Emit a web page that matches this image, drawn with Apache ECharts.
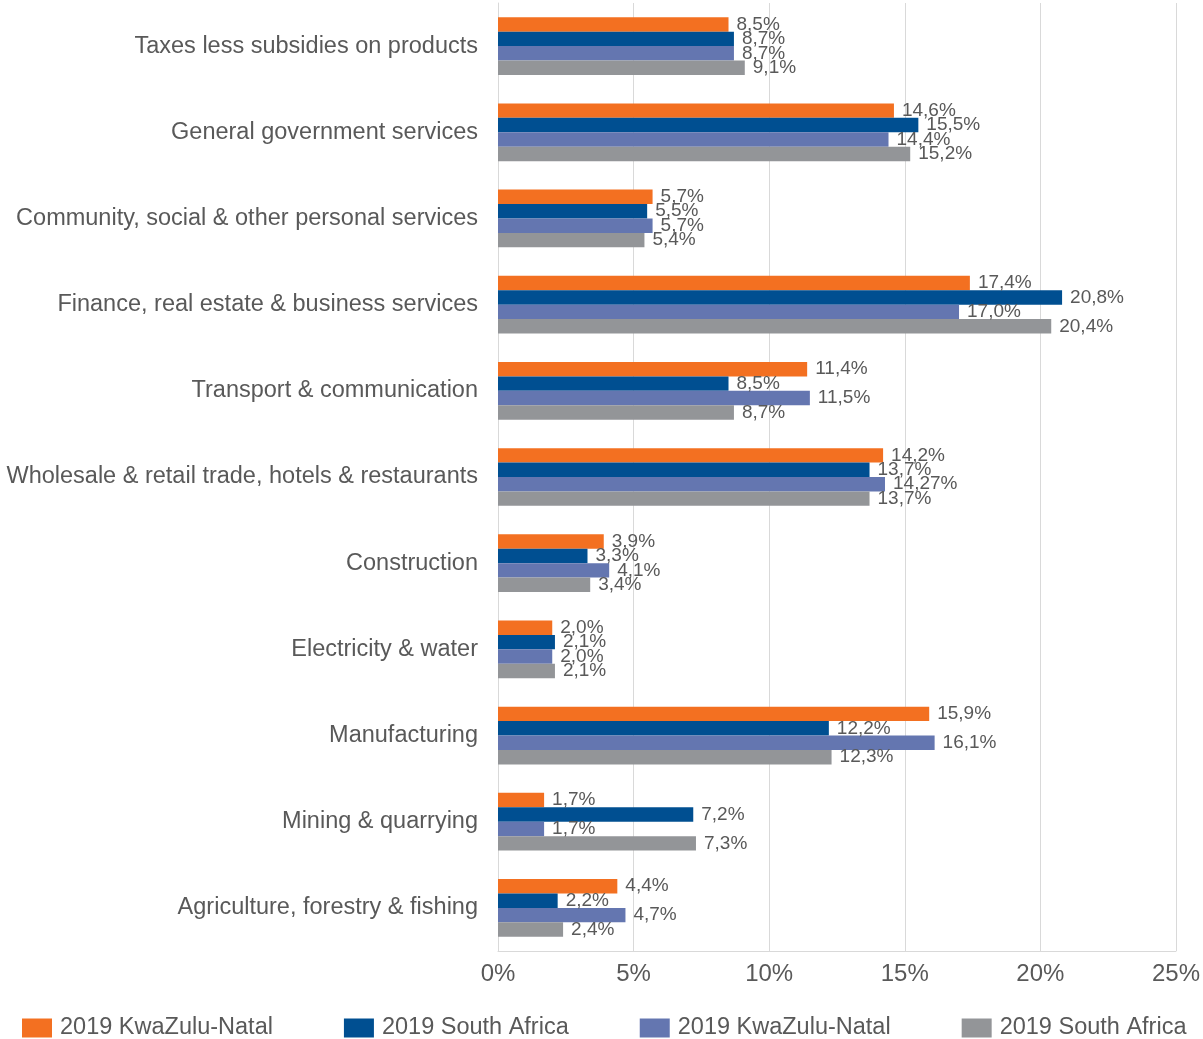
<!DOCTYPE html>
<html>
<head>
<meta charset="utf-8">
<style>
  html, body { margin: 0; padding: 0; background: #ffffff; }
  #chart { width: 1203px; height: 1039px; }
</style>
<script src="https://cdn.jsdelivr.net/npm/echarts@6/dist/echarts.min.js"></script>
</head>
<body>
<div id="chart"></div>
<script>
// Sector shares of GDP, 2019 (percent)
const categories = [
  'Taxes less subsidies on products',
  'General government services',
  'Community, social & other personal services',
  'Finance, real estate & business services',
  'Transport & communication',
  'Wholesale & retail trade, hotels & restaurants',
  'Construction',
  'Electricity & water',
  'Manufacturing',
  'Mining & quarrying',
  'Agriculture, forestry & fishing'
];

const kznA = [8.5, 14.6, 5.7, 17.4, 11.4, 14.2, 3.9, 2.0, 15.9, 1.7, 4.4];
const saA  = [8.7, 15.5, 5.5, 20.8, 8.5, 13.7, 3.3, 2.1, 12.2, 7.2, 2.2];
const kznB = [8.7, 14.4, 5.7, 17.0, 11.5, 14.27, 4.1, 2.0, 16.1, 1.7, 4.7];
const saB  = [9.1, 15.2, 5.4, 20.4, 8.7, 13.7, 3.4, 2.1, 12.3, 7.3, 2.4];

const seriesKeys = ['kznA', 'saA', 'kznB', 'saB'];
const seriesLabels = ['2019 KwaZulu-Natal', '2019 South Africa', '2019 KwaZulu-Natal', '2019 South Africa'];
const seriesData = [kznA, saA, kznB, saB];
const seriesColors = ['#F37021', '#004F91', '#6476B0', '#939598'];

const tickLabels = ['0%', '5%', '10%', '15%', '20%', '25%'];

const FONT = '"Liberation Sans", Arial, Helvetica, sans-serif';
const TEXT = '#595959';

function pct(v) {
  const s = Number.isInteger(Math.round(v * 100) / 10) ? v.toFixed(1) : String(v);
  return s.replace('.', ',') + '%';
}

const chart = echarts.init(document.getElementById('chart'), null, { renderer: 'canvas' });

chart.setOption({
  backgroundColor: '#ffffff',
  animation: false,
  textStyle: { fontFamily: FONT },
  grid: { left: 498, right: 26, top: 3, bottom: 88, containLabel: false },
  legend: {
    data: seriesKeys,
    left: 17,
    top: 1011,
    itemWidth: 30,
    itemHeight: 19,
    itemGap: 71,
    icon: 'rect',
    formatter: function (name) { return seriesLabels[seriesKeys.indexOf(name)]; },
    textStyle: { fontFamily: FONT, fontSize: 23.5, color: TEXT, padding: [0, 0, 0, 3] }
  },
  xAxis: {
    type: 'value',
    min: 0,
    max: 25,
    interval: 5,
    axisLine: { show: true, lineStyle: { color: '#d9d9d9', width: 1 } },
    axisTick: { show: false },
    splitLine: { show: true, lineStyle: { color: '#d9d9d9', width: 1 } },
    axisLabel: {
      margin: 11,
      fontFamily: FONT,
      fontSize: 24,
      color: TEXT,
      formatter: function (v) { return tickLabels[Math.round(v / 5)]; }
    }
  },
  yAxis: {
    type: 'category',
    data: categories,
    inverse: true,
    axisLine: { show: true, lineStyle: { color: '#d9d9d9', width: 1 } },
    axisTick: { show: false },
    axisLabel: { margin: 20, fontFamily: FONT, fontSize: 23.5, color: TEXT }
  },
  series: seriesKeys.map(function (key, i) {
    return {
      name: key,
      type: 'bar',
      data: seriesData[i],
      barGap: '0%',
      barCategoryGap: '33%',
      itemStyle: { color: seriesColors[i] },
      label: {
        show: true,
        position: 'right',
        distance: 8,
        fontFamily: FONT,
        fontSize: 19,
        color: TEXT,
        formatter: function (p) { return pct(p.value); }
      }
    };
  })
});
</script>
</body>
</html>
